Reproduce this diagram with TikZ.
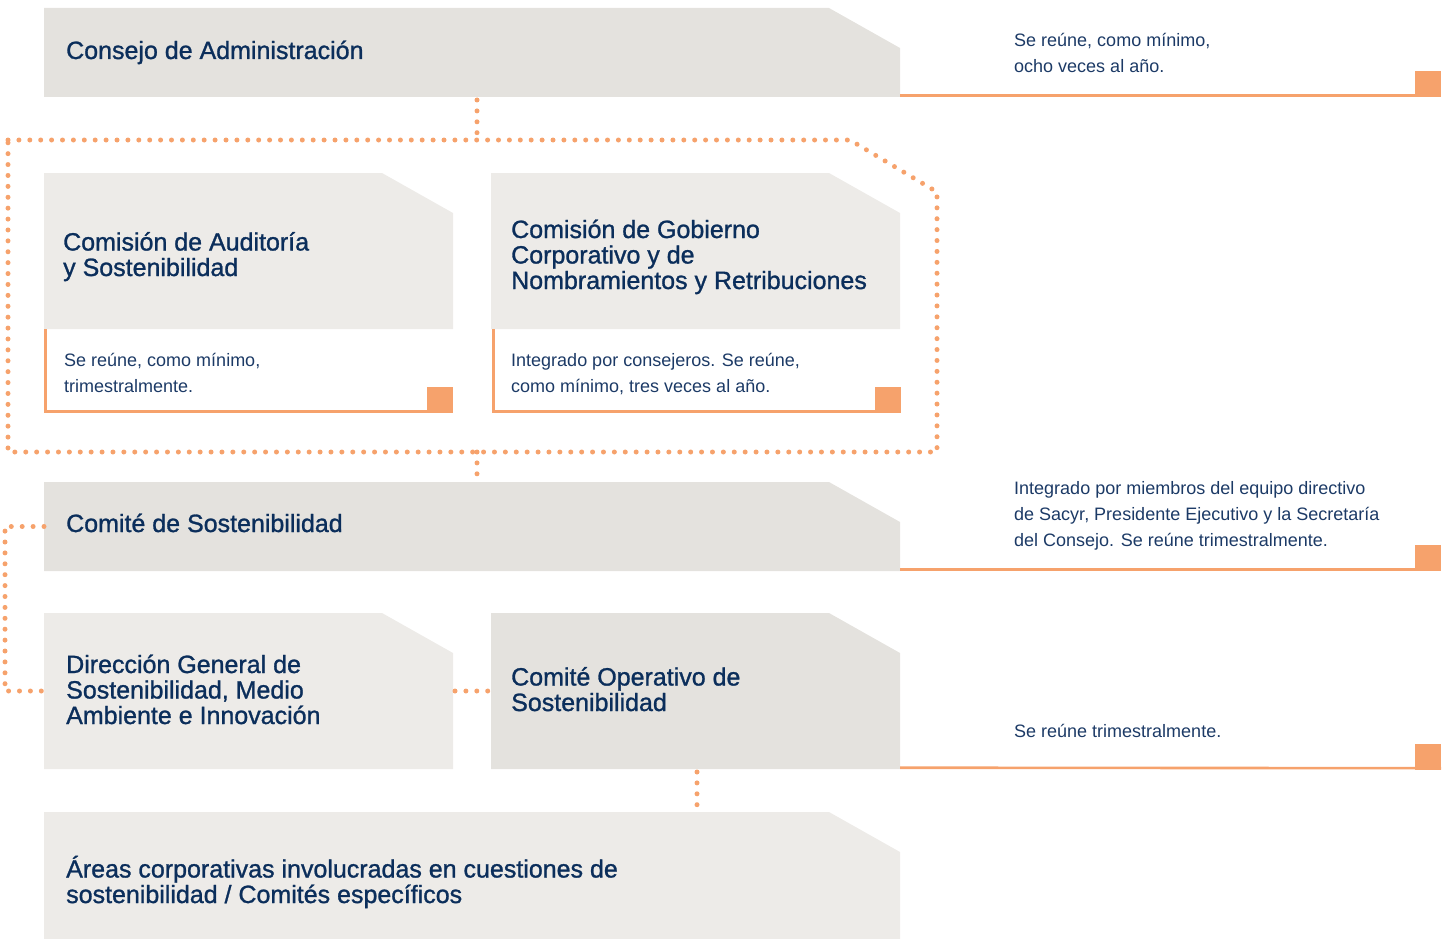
\documentclass[tikz,border=0pt]{standalone}
\usepackage{fontspec}
\setmainfont{Liberation Sans}
\newfontfamily\titlefont{Liberation Sans}[FakeBold=1.1]
\usetikzlibrary{backgrounds}
\definecolor{gdark}{HTML}{E4E2DE}
\definecolor{glight}{HTML}{EDEBE8}
\definecolor{orng}{HTML}{F6A26C}
\definecolor{navy}{HTML}{0B2E5B}
\definecolor{bodynavy}{HTML}{1C3A66}
\tikzset{
  boxframe/.style={draw=none,fill=none,inner sep=0pt,outer sep=0pt,anchor=north west},
  ttl/.style={anchor=base west,inner sep=0pt,text=navy,font=\titlefont\fontsize{25}{25.5}\selectfont,align=left},
  bodytxt/.style={anchor=base west,inner sep=0pt,text=bodynavy,font=\fontsize{18}{26}\selectfont,align=left},
  dots/.style={draw=orng,line width=5pt,line cap=round,dash pattern=on 0pt off 10.9pt},
  orule/.style={draw=orng,line width=2.6pt},
  sqr/.style={fill=orng,inner sep=0pt,outer sep=0pt,minimum size=26pt,anchor=south east},
}
\newcommand\cutfill[2]{%
  \fill[#2] (#1.south west) -- (#1.north west) -- ([xshift=-71pt]#1.north east)
    -- ([yshift=-40pt]#1.north east) -- (#1.south east) -- cycle;}
\begin{document}
\begin{tikzpicture}[x=1pt,y=-1pt]
\useasboundingbox (0,0) rectangle (1450,939);
% box frames
\node[boxframe,minimum width=856pt,minimum height=89pt] (consejo) at (44,8) {};
\node[boxframe,minimum width=409pt,minimum height=156pt] (aud) at (44,173) {};
\node[boxframe,minimum width=409pt,minimum height=156pt] (gob) at (491,173) {};
\node[boxframe,minimum width=856pt,minimum height=89pt] (comite) at (44,482) {};
\node[boxframe,minimum width=409pt,minimum height=156pt] (direc) at (44,613) {};
\node[boxframe,minimum width=409pt,minimum height=156pt] (oper) at (491,613) {};
\node[boxframe,minimum width=856pt,minimum height=127pt] (areas) at (44,812) {};
\begin{scope}[on background layer]
\cutfill{consejo}{gdark}
\cutfill{aud}{glight}
\cutfill{gob}{glight}
\cutfill{comite}{gdark}
\cutfill{direc}{glight}
\cutfill{oper}{gdark}
\cutfill{areas}{glight}
\end{scope}
% orange squares and rules
\node[sqr] (sq1) at (1441,97) {};
\node[sqr] (sq2) at (453,412.5) {};
\node[sqr] (sq3) at (901,412.5) {};
\node[sqr] (sq4) at (1441,571) {};
\node[sqr] (sq5) at (1441,769.5) {};
\draw[orule] ([yshift=1.3pt]consejo.south east) -- ([yshift=1.3pt]sq1.south east);
\draw[orule] ([xshift=1.3pt]aud.south west) |- ([yshift=1.3pt]sq2.south east);
\draw[orule] ([xshift=2.6pt]gob.south west) |- ([yshift=1.3pt]sq3.south east);
\draw[orule] ([yshift=1.3pt]comite.south east) -- ([yshift=1.3pt]sq4.south east);
\draw[orule] ([yshift=1.3pt]oper.south east) -- ([yshift=1.3pt]sq5.south east);
% titles (anchor = baseline of last line)
\node[ttl] (tConsejo) at (66,59) {Consejo de Administración};
\node[ttl] (tAud) at (63,276) {Comisión de Auditoría\\y Sostenibilidad};
\node[ttl] (tGob) at (511,289) {Comisión de Gobierno\\Corporativo y de\\Nombramientos y Retribuciones};
\node[ttl] (tComite) at (66,532) {Comité de Sostenibilidad};
\node[ttl] (tDirec) at (66,724) {Dirección General de\\Sostenibilidad, Medio\\Ambiente e Innovación};
\node[ttl] (tOper) at (511,711) {Comité Operativo de\\Sostenibilidad};
\node[ttl] (tAreas) at (66,903) {Áreas corporativas involucradas en cuestiones de\\sostenibilidad / Comités específicos};
% body texts
\node[bodytxt] (bConsejo) at (1014,73) {Se reúne, como mínimo,\\ocho veces al año.};
\node[bodytxt] (bAud) at (64,392) {Se reúne, como mínimo,\\trimestralmente.};
\node[bodytxt] (bGob) at (511,392) {Integrado por consejeros. Se reúne,\\como mínimo, tres veces al año.};
\node[bodytxt] (bComite) at (1014,546) {Integrado por miembros del equipo directivo\\de Sacyr, Presidente Ejecutivo y la Secretaría\\del Consejo. Se reúne trimestralmente.};
\node[bodytxt] (bOper) at (1014,737) {Se reúne trimestralmente.};
% dotted frame
\draw[dots] (8,140) -- (850,140) -- (937,192) -- (937,452) -- (8,452) -- cycle;
% connectors
\coordinate (fTop) at (477,140);
\coordinate (fBot) at (477,452);
\coordinate (xOp) at (697,790);
\draw[dots,shorten <=3pt] (consejo.south -| fTop) -- (fTop);
\draw[dots,shorten >=2pt] (fBot) -- (comite.north -| fBot);
\draw[dots] (comite.west) -- ++(-39,0) |- (direc.west);
\draw[dots,shorten <=2pt,shorten >=2pt] (direc.east) -- (oper.west);
\draw[dots,shorten <=3pt,shorten >=3pt] (oper.south -| xOp) -- (areas.north -| xOp);
\end{tikzpicture}
\end{document}
